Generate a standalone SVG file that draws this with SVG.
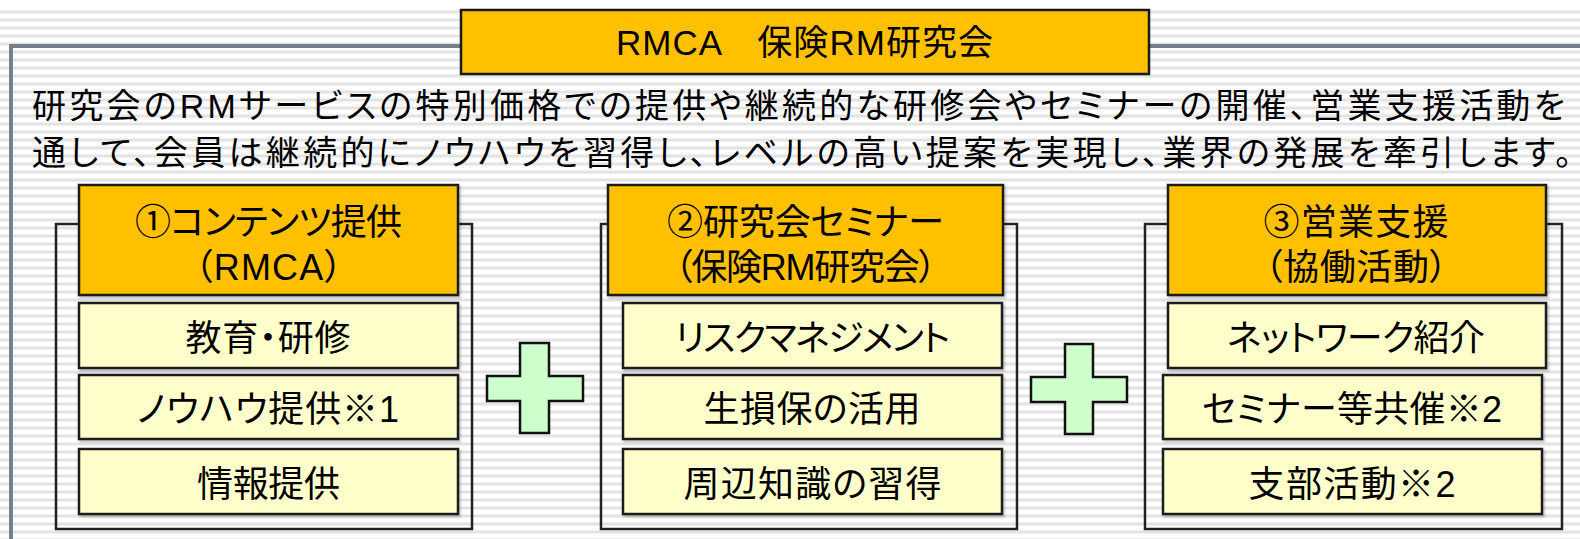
<svg xmlns="http://www.w3.org/2000/svg" width="1580" height="539" viewBox="0 0 1580 539">
<defs>
<pattern id="stripes" x="0" y="0" width="16" height="8" patternUnits="userSpaceOnUse">
<rect x="0" y="0" width="16" height="8" fill="#ffffff"/>
<rect x="0" y="2" width="16" height="1" fill="#f0f0f0"/>
<rect x="0" y="3" width="16" height="2" fill="#e3e3e3"/>
<rect x="0" y="5" width="16" height="1" fill="#f0f0f0"/>
</pattern>
<filter id="sh" x="-5%" y="-5%" width="110%" height="120%">
<feDropShadow dx="1.5" dy="2" stdDeviation="0.8" flood-color="#000" flood-opacity="0.25"/>
</filter>
</defs>
<style>
text{font-family:"Liberation Sans","Noto Sans CJK JP",sans-serif;fill:#000;font-feature-settings:"palt";}
.frame{fill:none;stroke:#222;stroke-width:2.5;}
.head{fill:#FFC000;stroke:#1a1a1a;stroke-width:2.5;filter:url(#sh);}
.item{fill:#FFFFCC;stroke:#1a1a1a;stroke-width:2.5;filter:url(#sh);}
.plus{fill:#CCFFCC;stroke:#111;stroke-width:2.5;}
.ht{font-size:36px;text-anchor:middle;dominant-baseline:central;}
.it{font-size:36px;text-anchor:middle;dominant-baseline:central;}
.body{font-size:34px;}
</style>
<rect x="0" y="0" width="1580" height="539" fill="url(#stripes)"/>
<rect x="0" y="0" width="1580" height="6" fill="#ffffff"/>

<g id="outer">
<path d="M11 539 V46 H1580" fill="none" stroke="#748089" stroke-width="4"/>
</g>

<g id="title">
<rect x="461" y="10" width="688" height="64" fill="#FFC000" stroke="#1a1a1a" stroke-width="2.5"/>
<text x="616" y="42" font-size="35" dominant-baseline="central" textLength="377" lengthAdjust="spacing">RMCA　保険RM研究会</text>
</g>

<g id="intro">
<text class="body" x="32" y="118" textLength="1533" lengthAdjust="spacing">研究会のRMサービスの特別価格での提供や継続的な研修会やセミナーの開催、営業支援活動を</text>
<text class="body" x="32" y="165" textLength="1540" lengthAdjust="spacing">通して、会員は継続的にノウハウを習得し、レベルの高い提案を実現し、業界の発展を牽引します。</text>
</g>

<g id="col1">
<rect class="frame" x="56" y="224" width="416" height="305"/>
<rect class="head" x="79" y="185" width="379" height="110"/>
<text class="ht" x="268.5" y="222" textLength="267" lengthAdjust="spacing">①コンテンツ提供</text>
<text class="ht" x="268.5" y="267" textLength="148" lengthAdjust="spacing">（RMCA）</text>
<rect class="item" x="79" y="303" width="379" height="65"/>
<text class="it" x="268" y="338" textLength="165" lengthAdjust="spacing">教育・研修</text>
<rect class="item" x="79" y="375" width="379" height="64"/>
<text class="it" x="268" y="409" textLength="262" lengthAdjust="spacing">ノウハウ提供※1</text>
<rect class="item" x="79" y="449" width="379" height="65"/>
<text class="it" x="268.5" y="484" textLength="143" lengthAdjust="spacing">情報提供</text>
</g>

<g id="col2">
<rect class="frame" x="601" y="224" width="416" height="305"/>
<rect class="head" x="608" y="185" width="395" height="110"/>
<text class="ht" x="805.5" y="222" textLength="277" lengthAdjust="spacing">②研究会セミナー</text>
<text class="ht" x="805.5" y="267" textLength="262" lengthAdjust="spacing">（保険RM研究会）</text>
<rect class="item" x="623" y="303" width="379" height="65"/>
<text class="it" x="812.5" y="338" textLength="275" lengthAdjust="spacing">リスクマネジメント</text>
<rect class="item" x="623" y="375" width="379" height="64"/>
<text class="it" x="812" y="409" textLength="217" lengthAdjust="spacing">生損保の活用</text>
<rect class="item" x="623" y="449" width="379" height="65"/>
<text class="it" x="812.5" y="484" textLength="258" lengthAdjust="spacing">周辺知識の習得</text>
</g>

<g id="col3">
<rect class="frame" x="1145" y="224" width="417" height="305"/>
<rect class="head" x="1168" y="185" width="378" height="110"/>
<text class="ht" x="1356" y="222" textLength="185" lengthAdjust="spacing">③営業支援</text>
<text class="ht" x="1356" y="267" textLength="183" lengthAdjust="spacing">（協働活動）</text>
<rect class="item" x="1168" y="303" width="378" height="65"/>
<text class="it" x="1356" y="338" textLength="258" lengthAdjust="spacing">ネットワーク紹介</text>
<rect class="item" x="1163" y="375" width="379" height="64"/>
<text class="it" x="1352" y="409" textLength="300" lengthAdjust="spacing">セミナー等共催※2</text>
<rect class="item" x="1163" y="449" width="379" height="65"/>
<text class="it" x="1352" y="484" textLength="207" lengthAdjust="spacing">支部活動※2</text>
</g>

<g id="plus1">
<path class="plus" d="M520 343 H549 V376 H583 V401 H549 V433 H520 V401 H487 V376 H520 Z"/>
</g>
<g id="plus2">
<path class="plus" d="M1065 344 H1093 V377 H1127 V402 H1093 V434 H1065 V402 H1031 V377 H1065 Z"/>
</g>
</svg>
